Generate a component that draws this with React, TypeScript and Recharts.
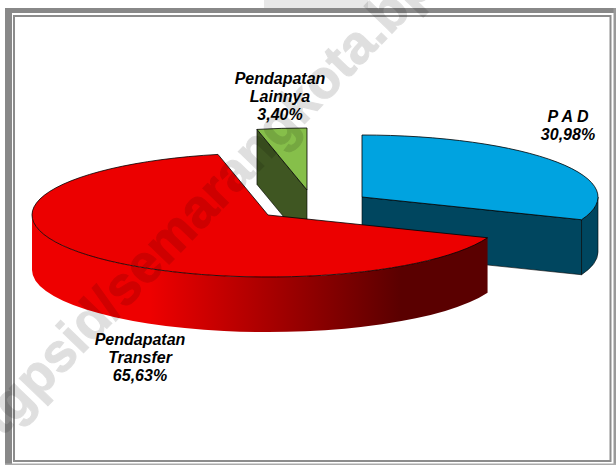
import React from 'react';
import { PieChart, Pie, Customized } from 'recharts';

const categories = ['Pendapatan Lainnya', 'P A D', 'Pendapatan Transfer'];
const values = [3.4, 30.98, 65.63];
const labelLines = [['Pendapatan', 'Lainnya'], ['P A D'], ['Pendapatan', 'Transfer']];
const watermarkText = 'stgpsid/semarangkota.bp';

const W = 616, H = 465, CX = 268, CY = 215, R = 236, SQUASH = 0.2627, DEPTH = 55;
const explode: Record<string, [number, number]> = {
  'Pendapatan Lainnya': [39, -25],
  'P A D': [94, -18],
  'Pendapatan Transfer': [0, 0],
};
const labelAt: Record<string, [number, number]> = {
  'Pendapatan Lainnya': [12, -131],
  'P A D': [300, -93],
  'Pendapatan Transfer': [-128, 130],
};
const tops: Record<string, string> = {
  'Pendapatan Lainnya': '#86bf4a',
  'P A D': '#00a3e0',
  'Pendapatan Transfer': '#ec0000',
};
const sides: Record<string, string> = {
  'Pendapatan Lainnya': '#3f5622',
  'P A D': '#00465f',
  'Pendapatan Transfer': 'url(#redWall)',
};

const data = categories.map((name, i) => ({ name, value: values[i], lines: labelLines[i] }));

function Slice(props: any) {
  const { cx, cy, outerRadius: r, startAngle: s, endAngle: e, name, payload } = props;
  const key = name ?? payload?.name;
  const [dx, dy] = explode[key];
  const ry = r * SQUASH;
  const ox = cx + dx, oy = cy + dy;
  const pt = (a: number, d = 0): [number, number] => [
    ox + r * Math.cos((a * Math.PI) / 180),
    oy - ry * Math.sin((a * Math.PI) / 180) + d,
  ];
  const arcTo = (from: number, to: number, d: number, sweep: number) => {
    const [x, y] = pt(to, d);
    return `A${r} ${ry} 0 ${Math.abs(from - to) > 180 ? 1 : 0} ${sweep} ${x} ${y}`;
  };
  const face = (a: number) => {
    const [x, y] = pt(a);
    return `M${ox} ${oy}L${x} ${y}L${x} ${y + DEPTH}L${ox} ${oy + DEPTH}Z`;
  };
  const sinOf = (a: number) => Math.sin((a * Math.PI) / 180);
  const wallFrom = Math.min(s, 0);
  const wallTo = Math.max(e, -180);
  const hasWall = wallFrom > wallTo;
  const p0 = pt(s);
  const wf = pt(wallFrom);
  const wt = pt(wallTo, DEPTH);
  const isRed = key === 'Pendapatan Transfer';
  return (
    <g>
      {sinOf(s + 90) < -0.01 && <path d={face(s)} fill={sides[key]} stroke="#000" strokeWidth={0.6} />}
      {sinOf(e - 90) < -0.01 && <path d={face(e)} fill={sides[key]} stroke="#000" strokeWidth={0.6} />}
      {hasWall && (
        <path
          d={`M${wf[0]} ${wf[1]}${arcTo(wallFrom, wallTo, 0, 1)}L${wt[0]} ${wt[1]}${arcTo(wallTo, wallFrom, DEPTH, 0)}Z`}
          fill={sides[key]}
          stroke={isRed ? 'none' : '#000'}
          strokeWidth={0.6}
        />
      )}
      <path
        d={`M${ox} ${oy}L${p0[0]} ${p0[1]}${arcTo(s, e, 0, 1)}Z`}
        fill={tops[key]}
        stroke="#000"
        strokeWidth={0.8}
      />
    </g>
  );
}

function SliceLabel(props: any) {
  const { cx, cy, name, value, payload } = props;
  const key = name ?? payload?.name;
  const [lx, ly] = labelAt[key];
  const lines: string[] = [...(payload?.lines ?? [key]), `${Number(value).toFixed(2).replace('.', ',')}%`];
  return (
    <text
      x={cx + lx}
      y={cy + ly}
      textAnchor="middle"
      fontFamily="'Liberation Sans', Arial, sans-serif"
      fontWeight="bold"
      fontStyle="italic"
      fontSize={16}
      fill="#000"
    >
      {lines.map((t, i) => (
        <tspan key={i} x={cx + lx} dy={i === 0 ? 0 : 18.2}>{t}</tspan>
      ))}
    </text>
  );
}

function Frame() {
  return (
    <g fill="none">
      <rect x={264} y={0} width={104} height={8} fill="#e8e8e8" />
      <rect x={5} y={8} width={7} height={H - 8} fill="#888" />
      <rect x={5} y={8} width={W - 5} height={5} fill="#888" />
      <rect x={613.5} y={8} width={2.5} height={H - 8} fill="#999" />
      <rect x={5} y={463.5} width={W - 5} height={1.5} fill="#aaa" />
      <rect x={14} y={16} width={596.5} height={445} stroke="#8c8c8c" strokeWidth={2} />
    </g>
  );
}

export default function App() {
  return (
    <div style={{ position: 'absolute', left: 0, top: 0, width: W, height: H, background: '#fff', overflow: 'hidden' }}>
      <PieChart width={W} height={H} margin={{ top: 0, right: 0, bottom: 0, left: 0 }}>
        <defs>
          <linearGradient id="redWall" x1="0" y1="0" x2="1" y2="0">
            <stop offset="0" stopColor="#ee0000" />
            <stop offset="0.26" stopColor="#ee0000" />
            <stop offset="0.81" stopColor="#5a0000" />
            <stop offset="1" stopColor="#5a0000" />
          </linearGradient>
        </defs>
        <Customized component={Frame} />
        <Pie
          data={data}
          dataKey="value"
          nameKey="name"
          cx={CX}
          cy={CY}
          innerRadius={0}
          outerRadius={R}
          startAngle={102.24}
          endAngle={-257.76}
          stroke="none"
          shape={Slice}
          label={SliceLabel}
          labelLine={false}
          isAnimationActive={false}
        />
      </PieChart>
      <svg width={W} height={H} style={{ position: 'absolute', left: 0, top: 0, pointerEvents: 'none' }}>
        <text
          transform="translate(-19 459) rotate(-46)"
          fontFamily="'Liberation Sans', Arial, sans-serif"
          fontWeight="bold"
          fontSize={54}
          fill="#000"
          stroke="#000"
          strokeWidth={1}
          opacity={0.12}
        >
          {watermarkText}
        </text>
      </svg>
    </div>
  );
}
